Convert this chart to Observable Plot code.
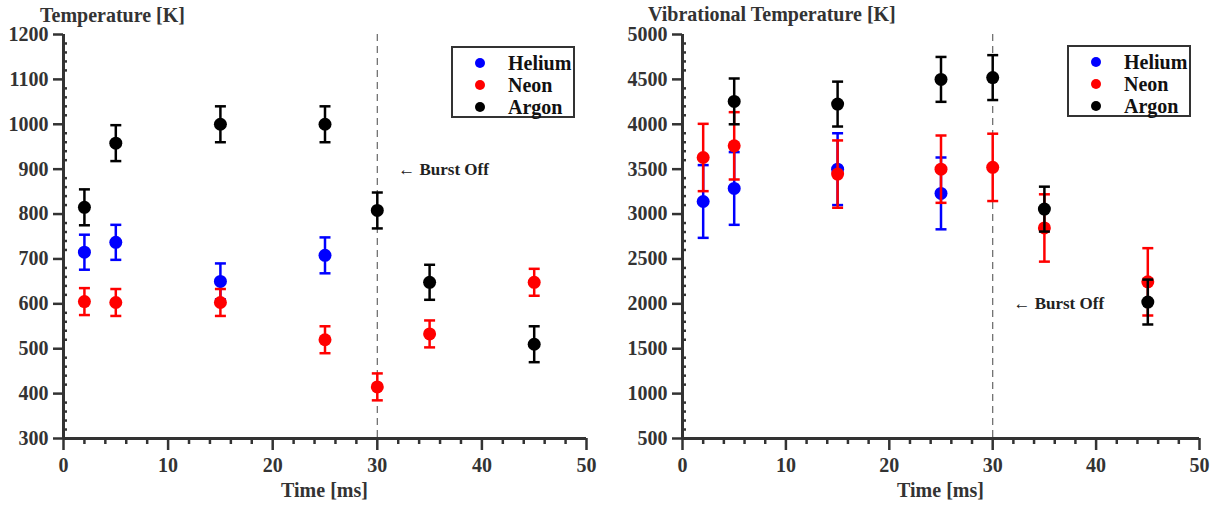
<!DOCTYPE html>
<html><head><meta charset="utf-8">
<script src="https://cdn.jsdelivr.net/npm/d3@7"></script>
<script src="https://cdn.jsdelivr.net/npm/@observablehq/plot@0.6"></script>
<style>
body{margin:0;background:#fff;font-family:"Liberation Serif","Times New Roman",serif;}
#wrap{position:relative;width:1220px;height:506px;overflow:hidden;}
.panel{position:absolute;top:0;width:610px;height:506px;}
.txt{position:absolute;font-weight:bold;color:#333;white-space:nowrap;line-height:1;}
.legend{position:absolute;border:2px solid #333;background:#fff;box-sizing:border-box;}
.legend .row{position:absolute;font-weight:bold;font-size:20px;color:#111;line-height:1;white-space:nowrap;}
.legend .dot{position:absolute;width:10px;height:10px;border-radius:50%;}
</style></head>
<body><div id="wrap"></div>
<script>
// ---------- data ----------
const gases = ["Helium", "Neon", "Argon"];
const gasColors = ["#0000ff", "#ff0000", "#000000"];
const xTicks = [0, 10, 20, 30, 40, 50];
const xMinorTicks = [2, 4, 6, 8, 12, 14, 16, 18, 22, 24, 26, 28, 32, 34, 36, 38, 42, 44, 46, 48];
const burstTime = [30];

// Left panel: Temperature [K]
const tempTicks = [300, 400, 500, 600, 700, 800, 900, 1000, 1100, 1200];
const heTime = [2, 5, 15, 25];
const heTemp = [715, 737, 650, 708];
const heTempErr = [39, 39, 40, 40];
const neTime = [2, 5, 15, 25, 30, 35, 45];
const neTemp = [605, 603, 603, 520, 415, 533, 648];
const neTempErr = [30, 30, 30, 30, 30, 30, 30];
const arTime = [2, 5, 15, 25, 30, 35, 45];
const arTemp = [815, 958, 1000, 1000, 808, 648, 510];
const arTempErr = [40, 40, 40, 40, 40, 39, 40];

// Right panel: Vibrational Temperature [K]
const vibTicks = [500, 1000, 1500, 2000, 2500, 3000, 3500, 4000, 4500, 5000];
const heVibTime = [2, 5, 15, 25];
const heVib = [3140, 3285, 3500, 3230];
const heVibErr = [405, 405, 400, 400];
const neVibTime = [2, 5, 15, 25, 30, 35, 45];
const neVib = [3630, 3760, 3445, 3500, 3520, 2845, 2245];
const neVibErr = [375, 375, 375, 375, 375, 375, 375];
const arVibTime = [5, 15, 25, 30, 35, 45];
const arVib = [4255, 4225, 4500, 4520, 3055, 2020];
const arVibErr = [255, 250, 250, 250, 250, 250];

const burstLabel = "← Burst Off";
const leftBurstAt = [{t: 32, v: 900}];
const rightBurstAt = [{t: 32, v: 2000}];

// ---------- helpers ----------
function rows(times, vals, errs, gas) {
  return times.map((t, i) => ({t, v: vals[i], lo: vals[i] - errs[i], hi: vals[i] + errs[i], gas}));
}
const capSymbol = {
  draw(ctx, size) {
    const w = Math.sqrt(size / Math.PI);
    ctx.moveTo(-w, 0); ctx.lineTo(w, 0);
  }
};
function minorRange(ticks, n) {
  const out = [];
  for (let i = 0; i < ticks.length - 1; i++) {
    const step = (ticks[i + 1] - ticks[i]) / n;
    for (let k = 1; k < n; k++) out.push(ticks[i] + k * step);
  }
  return out;
}
function seriesMarks(data, color) {
  return [
    Plot.ruleX(data, {x: "t", y1: "lo", y2: "hi", stroke: color, strokeWidth: 2.5}),
    Plot.dot(data, {x: "t", y: "hi", symbol: capSymbol, r: 5.5, stroke: color, fill: "none", strokeWidth: 2.5}),
    Plot.dot(data, {x: "t", y: "lo", symbol: capSymbol, r: 5.5, stroke: color, fill: "none", strokeWidth: 2.5}),
    Plot.dot(data, {x: "t", y: "v", r: 6.5, fill: color, stroke: "none"})
  ];
}
const fmt = d => String(d);
function makePanel(series, yTicks, burstAt, marginLeft, marginRight) {
  const yMinor = minorRange(yTicks, 5);
  return Plot.plot({
    width: 610, height: 506,
    marginTop: 34, marginBottom: 68, marginLeft, marginRight,
    style: {fontFamily: "'Liberation Serif', 'Times New Roman', serif", fontWeight: "bold", fontSize: "20px", color: "#333", background: "transparent", overflow: "visible"},
    x: {domain: [xTicks[0], xTicks[xTicks.length - 1]], label: null},
    y: {domain: [yTicks[0], yTicks[yTicks.length - 1]], label: null},
    marks: [
      Plot.ruleX(burstTime, {stroke: "#666", strokeWidth: 1.2, strokeDasharray: "7,5"}),
      Plot.axisX(xMinorTicks, {tickSize: 6, text: null, strokeWidth: 2.5, stroke: "#333", label: null}),
      Plot.axisX(xTicks, {tickSize: 12, tickPadding: 7, tickFormat: fmt, strokeWidth: 2.5, stroke: "#333", fill: "#333", fontSize: 20, label: null}),
      Plot.axisY(yMinor, {tickSize: -4, text: null, strokeWidth: 2.5, stroke: "#333", label: null}),
      Plot.axisY(yTicks, {tickSize: 10, tickPadding: 5, tickFormat: fmt, strokeWidth: 2.5, stroke: "#333", fill: "#333", fontSize: 20, label: null}),
      Plot.ruleX([xTicks[0]], {stroke: "#333", strokeWidth: 3}),
      Plot.ruleY([yTicks[0]], {stroke: "#333", strokeWidth: 3}),
      ...series.flatMap((d, i) => seriesMarks(d, gasColors[i])),
      Plot.text(burstAt, {x: "t", y: "v", text: () => burstLabel, textAnchor: "start", fontSize: 17, fill: "#222"})
    ]
  });
}

const wrap = document.getElementById("wrap");
function addPanel(left, svg) {
  const div = document.createElement("div");
  div.className = "panel"; div.style.left = left + "px";
  div.appendChild(svg); wrap.appendChild(div);
}
function addText(txt, css) {
  const d = document.createElement("div");
  d.className = "txt"; d.textContent = txt;
  Object.assign(d.style, css); wrap.appendChild(d);
}
function addLegend(left, top) {
  const box = document.createElement("div");
  box.className = "legend";
  Object.assign(box.style, {left: left + "px", top: top + "px", width: "124px", height: "72px"});
  gases.forEach((g, i) => {
    const dot = document.createElement("div");
    dot.className = "dot";
    Object.assign(dot.style, {left: "22px", top: (10 + i * 22) + "px", background: gasColors[i]});
    const r = document.createElement("div");
    r.className = "row"; r.textContent = g;
    Object.assign(r.style, {left: "55px", top: (5 + i * 22) + "px"});
    box.appendChild(dot); box.appendChild(r);
  });
  wrap.appendChild(box);
}

const leftSeries = [rows(heTime, heTemp, heTempErr, "Helium"), rows(neTime, neTemp, neTempErr, "Neon"), rows(arTime, arTemp, arTempErr, "Argon")];
const rightSeries = [rows(heVibTime, heVib, heVibErr, "Helium"), rows(neVibTime, neVib, neVibErr, "Neon"), rows(arVibTime, arVib, arVibErr, "Argon")];

addPanel(0, makePanel(leftSeries, tempTicks, leftBurstAt, 63, 24));
addPanel(610, makePanel(rightSeries, vibTicks, rightBurstAt, 72, 21));

addText("Temperature [K]", {left: "40px", top: "5px", fontSize: "20px"});
addText("Vibrational Temperature [K]", {left: "648px", top: "4px", fontSize: "20px"});
addText("Time [ms]", {left: "63px", width: "523px", textAlign: "center", top: "480px", fontSize: "20px"});
addText("Time [ms]", {left: "682px", width: "517px", textAlign: "center", top: "480px", fontSize: "20px"});

addLegend(451, 46);
addLegend(1067, 45);
</script>
</body></html>
